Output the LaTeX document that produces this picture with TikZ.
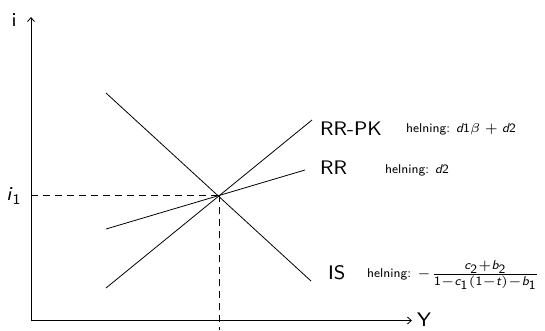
\documentclass[tikz,border=0pt]{standalone}
\usepackage{amsmath}
\usepackage{graphicx}
\usetikzlibrary{arrows.meta}
\newcommand\bgtext[1]{\scalebox{2.45}{\sffamily\fontsize{8}{10}\selectfont #1}}
\newcommand\smtext[1]{\scalebox{2.55}{\sffamily\fontsize{5}{6}\selectfont #1}}
\newcommand\vi[1]{\textsf{\itshape #1}}
\newcommand\vd[1]{\textsf{\upshape #1}}
\tikzset{
  ln/.style={line width=0.8pt},
  lbl/.style={inner sep=0pt},
  axarrow/.style={ln,-{Straight Barb[length=4pt,width=7pt]}},
  guide/.style={ln,dash pattern=on 7pt off 5pt},
}
\begin{document}
\begin{tikzpicture}[x=1pt,y=-1pt]
\useasboundingbox (0,0) rectangle (545,330);
\coordinate (O) at (31,320.5);
\coordinate (ytop) at (31,17);
\coordinate (xend) at (412,320.5);
\draw[axarrow] (O) -- (ytop);
\draw[axarrow] (O) -- (xend);
\node[lbl] (ilab) at (14,20) {\bgtext{i}};
\node[lbl,anchor=west] (Ylab) at (417,320) {\bgtext{Y}};
\coordinate (E) at (219,195);
\coordinate (Ebot) at (219,330);
\coordinate (Eleft) at (31,195);
\draw[guide] (Eleft) -- (E);
\draw[guide] (E) -- (Ebot);
\node[lbl] (i1) at (14,196) {\bgtext{\vi{i}$_{\vd{1}}$}};
% curves
\coordinate (IS1) at (106,93);
\coordinate (IS2) at (311,281);
\coordinate (PK1) at (106,288);
\coordinate (PK2) at (312,120);
\coordinate (RR1) at (106,229);
\coordinate (RR2) at (305,170);
\draw[ln] (IS1) -- (IS2);
\draw[ln] (PK1) -- (PK2);
\draw[ln] (RR1) -- (RR2);
\node[lbl,anchor=west] (pk) at (320,129) {\bgtext{RR-PK}};
\node[lbl,anchor=west] (pkh) at (406,129) {\smtext{helning: $\vi{d}\vd{1}\beta+\vi{d}\vd{2}$}};
\node[lbl,anchor=west] (rr) at (320,168) {\bgtext{RR}};
\node[lbl,anchor=west] (rrh) at (385,170) {\smtext{helning: $\vi{d}\vd{2}$}};
\node[lbl,anchor=west] (is) at (328,273) {\bgtext{IS}};
\node[lbl,anchor=west] (ish) at (367,275) {\smtext{helning: $-\frac{\vi{c}_{\vd{2}}+\vi{b}_{\vd{2}}}{\vd{1}-\vi{c}_{\vd{1}}(\vd{1}-\vi{t})-\vi{b}_{\vd{1}}}$}};
\end{tikzpicture}
\end{document}
